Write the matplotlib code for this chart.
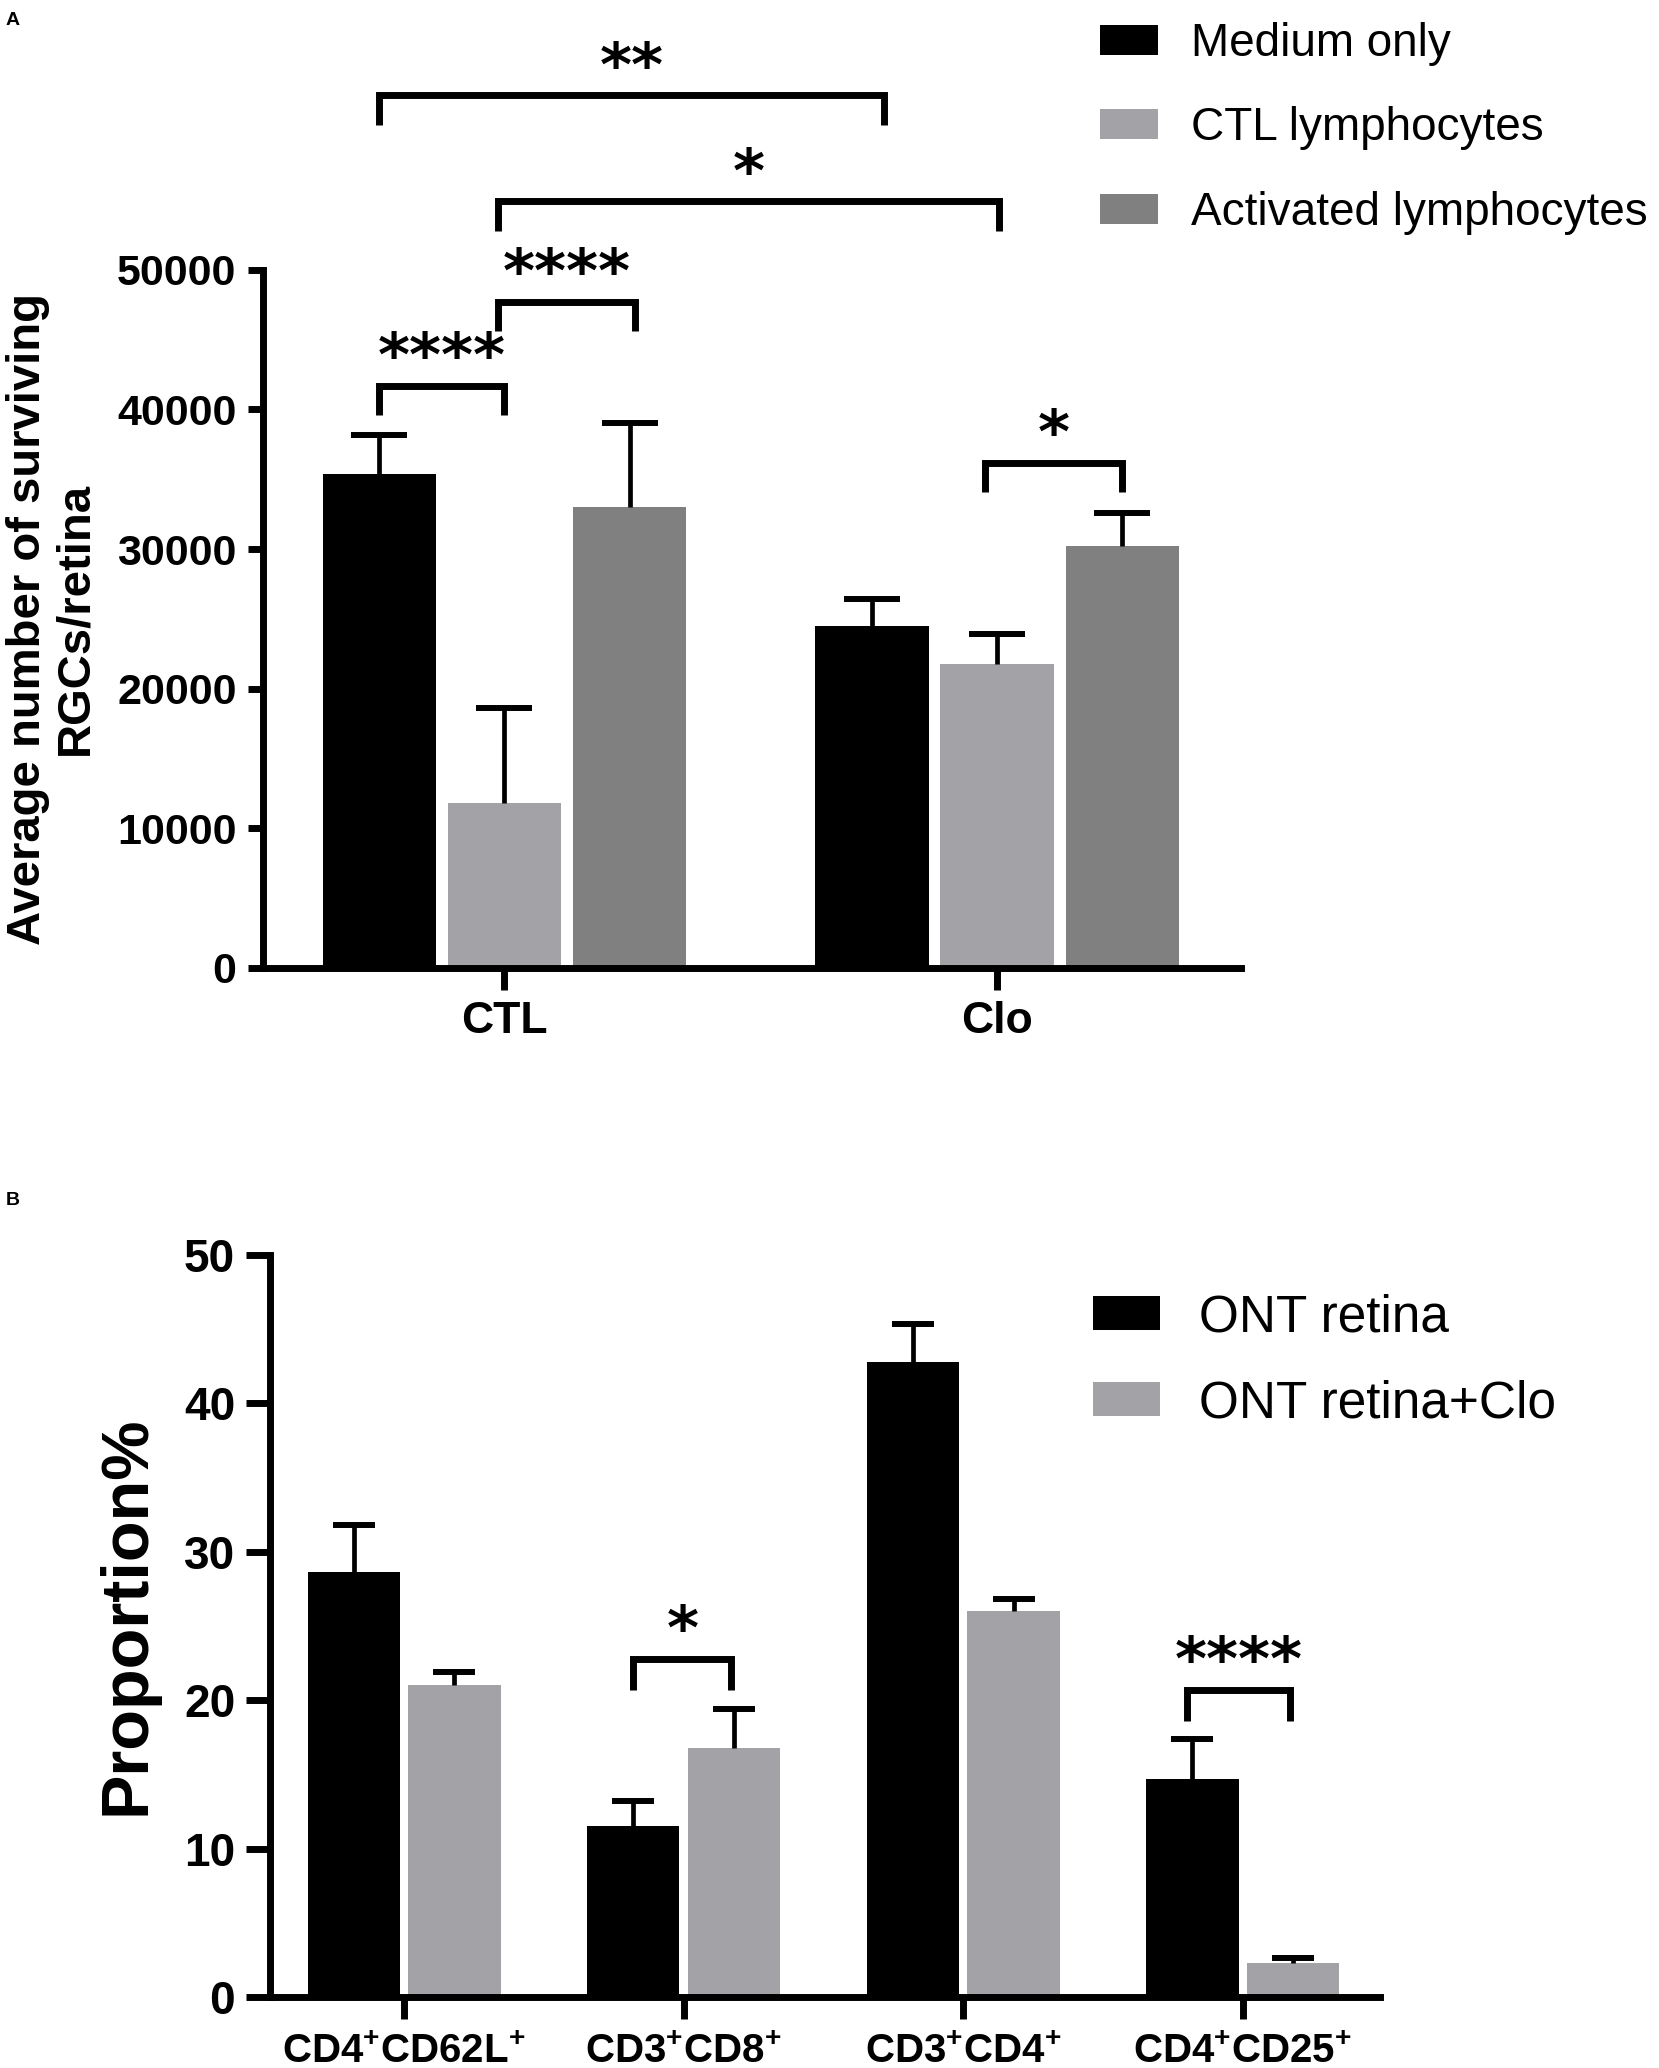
import matplotlib
matplotlib.use("Agg")
import matplotlib.pyplot as plt
import numpy as np

plt.rcParams['font.family'] = ['Liberation Sans', 'DejaVu Sans']
plt.rcParams['mathtext.fontset'] = 'custom'
plt.rcParams['mathtext.bf'] = 'Liberation Sans:bold'
plt.rcParams['mathtext.rm'] = 'Liberation Sans:bold'

# ---- panel A data ----
groups_a = ["CTL", "Clo"]
series_a = ["Medium only", "CTL lymphocytes", "Activated lymphocytes"]
mean_a = {
    "Medium only": [35400, 24500],
    "CTL lymphocytes": [11800, 21800],
    "Activated lymphocytes": [33000, 30200],
}
err_a = {
    "Medium only": [2800, 1900],
    "CTL lymphocytes": [6800, 2100],
    "Activated lymphocytes": [6000, 2400],
}
colors_a = ["#000000", "#a2a2a7", "#808080"]
# brackets: (x1, x2, y, label)
sig_a = [
    (-0.254, 0.77, 62500, "**"),
    (-0.013, 1.003, 54900, "*"),
    (-0.013, 0.265, 47700, "****"),
    (-0.254, 0.0, 41700, "****"),
    (0.976, 1.254, 36200, "*"),
]

# ---- panel B data ----
groups_b = [r"CD4$^{\mathbf{+}}$CD62L$^{\mathbf{+}}$", r"CD3$^{\mathbf{+}}$CD8$^{\mathbf{+}}$",
            r"CD3$^{\mathbf{+}}$CD4$^{\mathbf{+}}$", r"CD4$^{\mathbf{+}}$CD25$^{\mathbf{+}}$"]
series_b = ["ONT retina", "ONT retina+Clo"]
mean_b = {
    "ONT retina": [28.6, 11.5, 42.8, 14.7],
    "ONT retina+Clo": [21.0, 16.8, 26.0, 2.3],
}
err_b = {
    "ONT retina": [3.2, 1.7, 2.5, 2.7],
    "ONT retina+Clo": [0.9, 2.6, 0.8, 0.35],
}
colors_b = ["#000000", "#a2a2a7"]
sig_b = [
    (0.82, 1.17, 22.8, "*"),
    (2.80, 3.17, 20.7, "****"),
]

fig = plt.figure(figsize=(16.59, 20.68), dpi=100)

SPINE = 5.0
ELW = 3.4


def style_axes(ax, tick_fs, ylen):
    for s in ["top", "right"]:
        ax.spines[s].set_visible(False)
    for s in ["left", "bottom"]:
        ax.spines[s].set_linewidth(SPINE)
    ax.tick_params(axis="both", width=SPINE, labelsize=tick_fs)
    ax.tick_params(axis="x", length=16, pad=8)
    ax.tick_params(axis="y", length=ylen, pad=8)
    for lab in ax.get_xticklabels() + ax.get_yticklabels():
        lab.set_fontweight("bold")


def bars_with_err(ax, xs, means, errs, width, color, label, capsize):
    b = ax.bar(xs, means, width, color=color, label=label, zorder=2)
    _, caps, _ = ax.errorbar(xs, means, yerr=[np.zeros(len(xs)), errs], fmt="none",
                             ecolor="black", elinewidth=ELW, capsize=capsize,
                             capthick=4.3, zorder=3)
    caps[0].set_visible(False)  # only the upper cap is drawn
    return b


def draw_sig(ax, x1, x2, y, leg, label, star_fs):
    ax.plot([x1, x1, x2, x2], [y - leg, y, y, y - leg], color="black",
            lw=5.0, clip_on=False, solid_joinstyle="miter", solid_capstyle="butt")
    ax.annotate(label, xy=((x1 + x2) / 2, y), xytext=(0, 7), textcoords="offset points",
                ha="center", va="baseline", fontsize=star_fs, fontweight="bold",
                family="DejaVu Sans", annotation_clip=False)


# ---------------- panel A ----------------
axA = fig.add_axes([0.1585, 0.532, 0.5895, 0.3375])
x = np.arange(len(groups_a))
width = 0.23
offs = [-0.254, 0.0, 0.254]
handles = []
for i, s in enumerate(series_a):
    handles.append(bars_with_err(axA, x + offs[i], mean_a[s], err_a[s], width,
                                 colors_a[i], s, 20))
axA.set_xlim(-0.49, 1.495)
axA.set_ylim(0, 50000)
axA.set_yticks([0, 10000, 20000, 30000, 40000, 50000])
axA.set_xticks(x)
axA.set_xticklabels(groups_a)
style_axes(axA, 31, 11)
axA.tick_params(axis="x", labelsize=32)
axA.set_ylabel("Average number of surviving\nRGCs/retina", fontsize=34, fontweight="bold",
               va="center", linespacing=1.1)
axA.yaxis.set_label_coords(-0.216, 0.5)
for x1, x2, y, lab in sig_a:
    draw_sig(axA, x1, x2, y, 2100, lab, 44)
axA.legend(handles=handles, loc="upper left", bbox_to_anchor=(1100 / 1659, 1 - 22 / 2068),
           bbox_transform=fig.transFigure, frameon=False, fontsize=33, handlelength=1.27,
           handleheight=0.63, handletextpad=0.72, labelspacing=0.88, borderpad=0, borderaxespad=0)

# ---------------- panel B ----------------
axB = fig.add_axes([0.1627, 0.0343, 0.669, 0.359])
xb = np.arange(len(groups_b))
wb = 0.33
offb = [-0.18, 0.18]
hb = []
for i, s in enumerate(series_b):
    hb.append(bars_with_err(axB, xb + offb[i], mean_b[s], err_b[s], wb, colors_b[i], s, 15))
axB.set_xlim(-0.48, 3.49)
axB.set_ylim(0, 50)
axB.set_yticks([0, 10, 20, 30, 40, 50])
axB.set_xticks(xb)
axB.set_xticklabels(groups_b)
style_axes(axB, 33, 17)
axB.tick_params(axis="x", labelsize=29, pad=10)
axB.set_ylabel("Proportion%", fontsize=48, fontweight="bold", va="center")
axB.yaxis.set_label_coords(-0.128, 0.514)
for x1, x2, y, lab in sig_b:
    draw_sig(axB, x1, x2, y, 2.1, lab, 44)
axB.legend(handles=hb, loc="upper left", bbox_to_anchor=(1093 / 1659, 1 - 1293 / 2068),
           bbox_transform=fig.transFigure, frameon=False, fontsize=37, handlelength=1.3,
           handleheight=0.65, handletextpad=0.76, labelspacing=0.72, borderpad=0, borderaxespad=0)

fig.text(6 / 1659, 1 - 12 / 2068, "A", fontsize=14, fontweight="bold", va="top", ha="left")
fig.text(6 / 1659, 1 - 1192 / 2068, "B", fontsize=14, fontweight="bold", va="top", ha="left")

fig.savefig("out.png", dpi=100)
